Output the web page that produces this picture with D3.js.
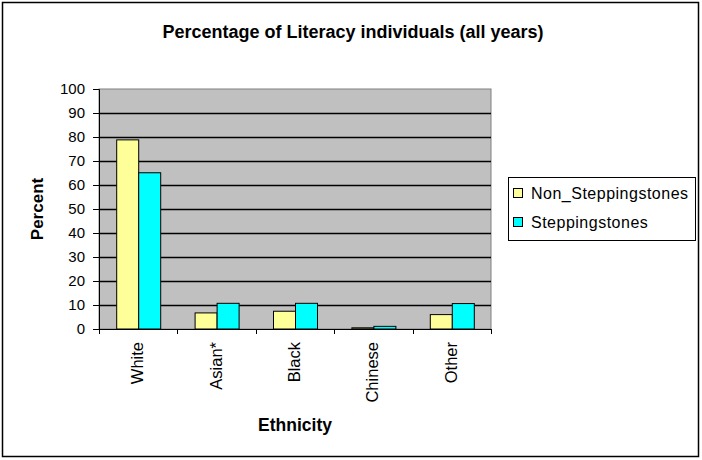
<!DOCTYPE html>
<html>
<head>
<meta charset="utf-8">
<script src="https://cdn.jsdelivr.net/npm/d3@7"></script>
<style>
  html, body { margin: 0; padding: 0; background: #fff; }
  svg { display: block; font-family: "Liberation Sans", Arial, sans-serif; }
</style>
</head>
<body>
<svg id="chart" width="702" height="460"></svg>
<script>
// Literacy percentages by ethnicity, two groups
const categories = ["White", "Asian*", "Black", "Chinese", "Other"];
const seriesNames = ["Non_Steppingstones", "Steppingstones"];
const nonSteppingstones = [78.8, 6.7, 7.4, 0.5, 6.0];
const steppingstones = [65.1, 10.7, 10.7, 1.1, 10.6];
const yTicks = [0, 10, 20, 30, 40, 50, 60, 70, 80, 90, 100];
const colors = ["#FFFF99", "#00FFFF"];

const series = [nonSteppingstones, steppingstones];
const svg = d3.select("#chart");

// outer chart frame
svg.append("rect")
  .attr("x", 2.5).attr("y", 2.5)
  .attr("width", 696).attr("height", 454)
  .attr("fill", "#fff").attr("stroke", "#000").attr("stroke-width", 1.5);

const plot = { left: 99, right: 491, top: 89, bottom: 329 };

const x = d3.scaleBand().domain(categories)
  .range([plot.left, plot.right]).paddingInner(0).paddingOuter(0);
const y = d3.scaleLinear().domain([0, 100]).range([plot.bottom, plot.top]);

// plot background
svg.append("rect")
  .attr("x", plot.left).attr("y", plot.top)
  .attr("width", plot.right - plot.left).attr("height", plot.bottom - plot.top)
  .attr("fill", "#C0C0C0").attr("stroke", "#808080").attr("stroke-width", 1);

// horizontal gridlines
svg.append("g").selectAll("line")
  .data(yTicks.filter(t => t > 0 && t < 100))
  .join("line")
  .attr("x1", plot.left).attr("x2", plot.right)
  .attr("y1", d => Math.round(y(d)) + 0.5).attr("y2", d => Math.round(y(d)) + 0.5)
  .attr("stroke", "#000").attr("stroke-width", 1.4);

// bars
const barW = 22;
const groupW = barW * series.length;
series.forEach((vals, si) => {
  svg.append("g").selectAll("rect")
    .data(vals)
    .join("rect")
    .attr("x", (d, i) => x(categories[i]) + (x.bandwidth() - groupW) / 2 + si * barW + 0.5)
    .attr("y", d => y(d))
    .attr("width", barW)
    .attr("height", d => y(0) - y(d))
    .attr("fill", colors[si])
    .attr("stroke", "#000").attr("stroke-width", 1);
});

// y axis
const yAxis = svg.append("g")
  .attr("transform", `translate(${plot.left},0)`)
  .call(d3.axisLeft(y).tickValues(yTicks).tickSize(6).tickPadding(8).tickFormat(d3.format("d")));
yAxis.select(".domain").attr("stroke", "#000").attr("stroke-width", 1);
yAxis.selectAll(".tick line").attr("stroke", "#000");
yAxis.selectAll("text").attr("font-size", 15).attr("fill", "#000")
  .attr("font-family", "Liberation Sans, Arial, sans-serif");

// x axis: ticks on category boundaries
const xg = svg.append("g");
xg.append("line")
  .attr("x1", plot.left).attr("x2", plot.right)
  .attr("y1", plot.bottom + 0.5).attr("y2", plot.bottom + 0.5)
  .attr("stroke", "#000").attr("stroke-width", 1);
const boundaries = categories.map(c => x(c)).concat([x(categories[categories.length - 1]) + x.bandwidth()]);
xg.selectAll("line.tk").data(boundaries).join("line").attr("class", "tk")
  .attr("x1", d => Math.round(d) + 0.5).attr("x2", d => Math.round(d) + 0.5)
  .attr("y1", plot.bottom).attr("y2", plot.bottom + 5)
  .attr("stroke", "#000");
xg.selectAll("text").data(categories).join("text")
  .attr("transform", d => `translate(${x(d) + x.bandwidth() / 2 + 5},${plot.bottom + 13}) rotate(-90)`)
  .attr("text-anchor", "end")
  .attr("font-size", 16.5)
  .text(d => d);

// titles
svg.append("text")
  .attr("x", 353).attr("y", 38)
  .attr("text-anchor", "middle")
  .attr("font-size", 18).attr("font-weight", "bold")
  .text("Percentage of Literacy individuals (all years)");

svg.append("text")
  .attr("x", 295).attr("y", 431)
  .attr("text-anchor", "middle")
  .attr("font-size", 17.5).attr("font-weight", "bold")
  .text("Ethnicity");

svg.append("text")
  .attr("transform", `translate(43,${(plot.top + plot.bottom) / 2}) rotate(-90)`)
  .attr("text-anchor", "middle")
  .attr("font-size", 17).attr("font-weight", "bold")
  .text("Percent");

// legend
const lg = svg.append("g");
lg.append("rect")
  .attr("x", 508.5).attr("y", 177.5).attr("width", 187).attr("height", 63)
  .attr("fill", "#fff").attr("stroke", "#000").attr("stroke-width", 1);
seriesNames.forEach((name, i) => {
  const cy = 193 + i * 29;
  lg.append("rect")
    .attr("x", 513.5).attr("y", cy - 4.5).attr("width", 9).attr("height", 9)
    .attr("fill", colors[i]).attr("stroke", "#000");
  lg.append("text")
    .attr("x", 531).attr("y", cy + 5.5)
    .attr("font-size", 16)
    .attr("letter-spacing", 0.5)
    .text(name);
});
</script>
</body>
</html>
